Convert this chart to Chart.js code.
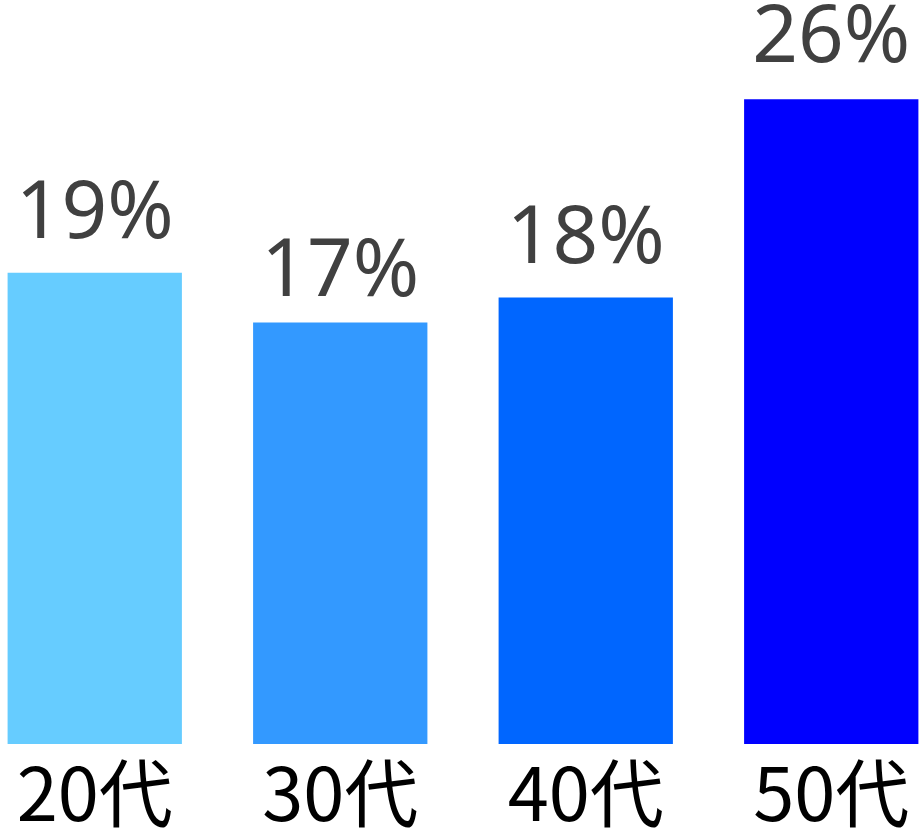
<!DOCTYPE html>
<html>
<head>
<meta charset="utf-8">
<script src="https://cdn.jsdelivr.net/npm/chart.js@4"></script>
<style>
  html, body { margin: 0; padding: 0; background: #fff; overflow: hidden; }
  body { width: 922px; height: 834px; position: relative; }
  #chart { position: absolute; left: -28px; top: 0; }
</style>
</head>
<body>
<canvas id="chart" width="982" height="834"></canvas>
<script>
// age groups and share of each (percent)
const categories = ["20代", "30代", "40代", "50代"];
const shares = [19, 17, 18, 26];
const barColors = ["#66CCFF", "#3399FF", "#0066FF", "#0000FF"];
// gap between bar top and label baseline, px (the 17% label sits a bit lower in the original)
const labelGaps = [35, 26, 35, 37];

// draws "19%" etc above each bar
const valueLabels = {
  id: "valueLabels",
  afterDatasetsDraw(chart) {
    const ctx = chart.ctx;
    const meta = chart.getDatasetMeta(0);
    ctx.save();
    ctx.font = '80px "Noto Sans", sans-serif';
    ctx.fillStyle = "#404040";
    ctx.textAlign = "center";
    ctx.textBaseline = "alphabetic";
    meta.data.forEach(function (bar, i) {
      ctx.fillText(shares[i] + "%", bar.x, bar.y - labelGaps[i]);
    });
    ctx.restore();
  }
};

new Chart(document.getElementById("chart"), {
  type: "bar",
  data: {
    labels: categories,
    datasets: [{
      data: shares,
      backgroundColor: barColors,
      borderWidth: 0,
      categoryPercentage: 1,
      barPercentage: 0.71
    }]
  },
  options: {
    responsive: false,
    animation: false,
    devicePixelRatio: 1,
    layout: { padding: 0 },
    plugins: { legend: { display: false }, tooltip: { enabled: false } },
    scales: {
      x: {
        grid: { display: false, drawTicks: false },
        border: { display: false },
        ticks: {
          color: "#000",
          padding: 4,
          font: { family: '"Noto Sans CJK JP", "Noto Sans", sans-serif', size: 74 }
        },
        afterFit(scale) { scale.height = 90; }
      },
      y: {
        display: false,
        min: 0,
        max: 30
      }
    }
  },
  plugins: [valueLabels]
});
</script>
</body>
</html>
